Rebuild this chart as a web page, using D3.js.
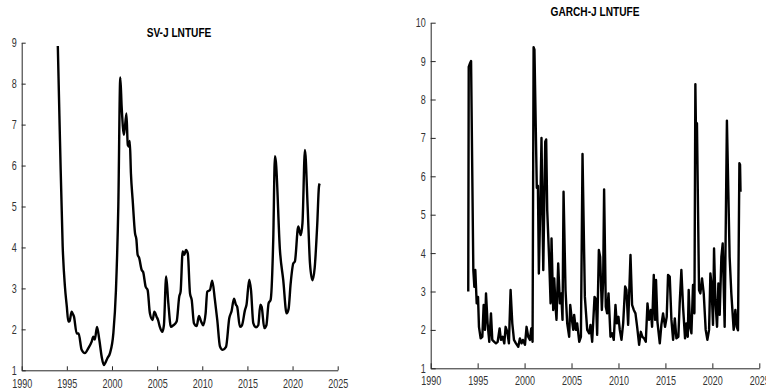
<!DOCTYPE html>
<html>
<head>
<meta charset="utf-8">
<script src="https://cdn.jsdelivr.net/npm/d3@7"></script>
<style>
  body { margin: 0; background: #fff; }
  .axis path, .axis line { stroke: #262626; }
  .axis text { fill: #333; font-family: "Liberation Sans", Arial, sans-serif; font-size: 12.5px; }
  .title { font-family: "Liberation Sans", Arial, sans-serif; font-weight: bold; font-size: 13px; fill: #000; }
</style>
</head>
<body>
<div id="chart"></div>
<script>
// SV-J LNTUFE (left panel)
const svjYears = [1994.0, 1994.24, 1994.54, 1994.79, 1995.0, 1995.16, 1995.3, 1995.53, 1995.65, 1995.79,
  1996.09, 1996.3, 1996.64, 1997.0, 1997.38, 1997.75, 1997.93, 1998.1, 1998.34, 1998.6,
  1998.86, 1999.1, 1999.3, 1999.48, 1999.78, 2000.15, 2000.44, 2000.7, 2000.92, 2001.07,
  2001.33, 2001.6, 2001.75, 2001.9, 2001.97, 2002.1, 2002.29, 2002.55, 2002.7, 2002.84,
  2003.0, 2003.29, 2003.45, 2003.73, 2003.95, 2004.2, 2004.5, 2004.69, 2004.94, 2005.1,
  2005.3, 2005.57, 2005.75, 2006.0, 2006.24, 2006.53, 2006.8, 2007.16, 2007.45, 2007.6,
  2007.83, 2008.0, 2008.2, 2008.4, 2008.64, 2008.83, 2009.08, 2009.38, 2009.63, 2009.86,
  2010.1, 2010.37, 2010.55, 2010.85, 2011.1, 2011.4, 2011.66, 2011.96, 2012.26, 2012.63,
  2012.99, 2013.25, 2013.51, 2013.73, 2013.87, 2014.17, 2014.4, 2014.73, 2014.9, 2015.2,
  2015.4, 2015.65, 2015.95, 2016.2, 2016.43, 2016.58, 2016.87, 2017.1, 2017.35, 2017.57,
  2017.86, 2018.05, 2018.15, 2018.6, 2018.97, 2019.34, 2019.56, 2019.79, 2020.08, 2020.26,
  2020.63, 2020.9, 2021.1, 2021.37, 2021.67, 2021.93, 2022.2, 2022.45, 2022.74, 2022.92, 2023.0];
const svjValues = [8.92, 6.62, 4.02, 3.04, 2.55, 2.19, 2.2, 2.43, 2.38, 2.31,
  1.9, 1.9, 1.5, 1.42, 1.54, 1.7, 1.82, 1.75, 2.06, 1.74,
  1.33, 1.13, 1.2, 1.29, 1.42, 1.9, 2.96, 5.0, 8.15, 7.44,
  6.75, 7.27, 6.5, 6.46, 6.6, 5.8, 5.16, 4.35, 4.2, 3.82,
  3.75, 3.45, 3.4, 3.04, 2.96, 2.39, 2.23, 2.43, 2.31, 2.23,
  2.06, 1.94, 2.1, 3.29, 2.64, 2.06, 2.1, 2.19, 2.8, 2.92,
  3.9, 3.82, 3.94, 3.85, 2.88, 2.72, 2.15, 2.08, 2.33, 2.2,
  2.1, 2.39, 2.92, 2.96, 3.19, 2.72, 2.23, 1.58, 1.5, 1.57,
  2.27, 2.45, 2.75, 2.6, 2.55, 2.06, 2.1, 2.47, 2.6, 3.21,
  2.95, 2.15, 2.05, 2.1, 2.6, 2.55, 2.03, 2.1, 2.64, 2.72,
  4.18, 6.23, 6.1, 3.94, 3.2, 2.39, 2.5, 3.12, 3.61, 3.66,
  4.51, 4.3, 4.6, 6.38, 5.0, 3.61, 3.2, 3.5, 4.59, 5.48, 5.56];

// GARCH-J LNTUFE (right panel)
const garchYears = [1994.0, 1994.05, 1994.2, 1994.3, 1994.54, 1994.65, 1994.75, 1994.9, 1995.04, 1995.14,
  1995.32, 1995.5, 1995.64, 1995.78, 1995.89, 1996.06, 1996.24, 1996.42, 1996.56, 1996.77,
  1996.95, 1997.13, 1997.34, 1997.48, 1997.66, 1997.84, 1997.98, 1998.16, 1998.33, 1998.51,
  1998.69, 1998.87, 1999.08, 1999.33, 1999.5, 1999.68, 1999.82, 2000.04, 2000.21, 2000.39,
  2000.57, 2000.71, 2000.85, 2000.96, 2001.05, 2001.3, 2001.42, 2001.52, 2001.7, 2001.8,
  2001.99, 2002.2, 2002.3, 2002.41, 2002.62, 2002.77, 2002.87, 2003.05, 2003.16, 2003.3,
  2003.4, 2003.58, 2003.76, 2003.9, 2004.04, 2004.15, 2004.36, 2004.54, 2004.75, 2004.86,
  2005.0, 2005.18, 2005.28, 2005.46, 2005.6, 2005.82, 2006.0, 2006.17, 2006.42, 2006.67,
  2006.88, 2007.02, 2007.2, 2007.45, 2007.6, 2007.73, 2007.91, 2008.05, 2008.23, 2008.37,
  2008.47, 2008.65, 2008.79, 2008.94, 2009.15, 2009.33, 2009.5, 2009.68, 2009.82, 2010.0,
  2010.14, 2010.32, 2010.5, 2010.71, 2010.85, 2011.03, 2011.28, 2011.45, 2011.63, 2011.81,
  2011.99, 2012.2, 2012.38, 2012.55, 2012.73, 2012.91, 2013.09, 2013.26, 2013.44, 2013.58,
  2013.76, 2013.9, 2014.0, 2014.15, 2014.4, 2014.57, 2014.75, 2014.96, 2015.14, 2015.28,
  2015.46, 2015.64, 2015.82, 2016.0, 2016.17, 2016.38, 2016.52, 2016.7, 2016.88, 2017.09,
  2017.23, 2017.38, 2017.48, 2017.62, 2017.77, 2017.94, 2018.09, 2018.19, 2018.28, 2018.36,
  2018.58, 2018.72, 2018.9, 2019.08, 2019.29, 2019.47, 2019.65, 2019.79, 2019.9, 2020.07,
  2020.18, 2020.32, 2020.5, 2020.64, 2020.78, 2020.96, 2021.1, 2021.31, 2021.55, 2021.84,
  2022.02, 2022.27, 2022.45, 2022.59, 2022.73, 2022.88, 2022.95, 2023.0];
const garchValues = [3.0, 8.85, 8.95, 9.0, 3.56, 3.12, 3.56, 2.69, 2.86, 2.08,
  1.78, 1.82, 2.65, 2.0, 2.95, 2.17, 1.69, 2.43, 1.74, 1.69,
  1.65, 1.69, 2.04, 1.74, 1.82, 1.65, 2.08, 1.95, 1.65, 3.04,
  2.17, 1.74, 1.65, 1.56, 1.78, 1.65, 1.74, 1.61, 2.08, 1.82,
  1.74, 2.04, 1.69, 9.36, 9.3, 5.7, 5.75, 3.47, 5.55, 7.0,
  3.56, 6.9, 6.96, 5.12, 3.82, 2.69, 4.38, 2.52, 3.34, 2.6,
  2.26, 3.73, 2.69, 2.95, 2.26, 5.6, 3.04, 2.17, 1.82, 2.65,
  2.34, 2.0, 2.39, 2.0, 2.17, 1.69, 1.82, 6.58, 2.86, 2.0,
  1.91, 2.13, 1.69, 2.86, 2.8, 1.87, 4.08, 3.9, 2.52, 3.3,
  5.66, 2.6, 2.43, 2.95, 1.82, 1.91, 1.74, 2.65, 2.17, 2.34,
  2.0, 1.74, 2.17, 3.13, 3.04, 2.13, 3.95, 2.65, 2.52, 2.43,
  2.08, 1.61, 1.95, 1.82, 1.78, 1.69, 2.69, 2.26, 2.52, 2.08,
  3.43, 2.26, 3.3, 2.21, 1.65, 2.13, 2.43, 2.08, 2.34, 3.43,
  3.39, 2.26, 1.74, 2.3, 1.78, 1.82, 2.69, 3.56, 2.6, 1.78,
  2.17, 1.82, 3.04, 2.08, 1.91, 3.17, 2.43, 8.4, 6.7, 7.38,
  3.04, 2.95, 3.34, 2.95, 2.0, 1.74, 2.0, 3.47, 3.21, 2.13,
  4.12, 2.78, 2.08, 3.21, 2.39, 3.9, 4.25, 2.08, 7.45, 3.9,
  2.95, 2.0, 2.52, 2.08, 1.99, 6.34, 6.3, 5.6];

const xTicks = [1990, 1995, 2000, 2005, 2010, 2015, 2020, 2025];

const svg = d3.select("#chart").append("svg")
  .attr("width", 766)
  .attr("height", 391)
  .style("display", "block");

function drawPanel(opts) {
  const x = d3.scaleLinear().domain([1990, 2025]).range([opts.left, opts.right]);
  const y = d3.scaleLinear().domain(opts.yDomain).range([opts.bottom, opts.top]);

  // bottom axis, ticks point inward
  const xa = svg.append("g")
    .attr("class", "axis")
    .attr("transform", `translate(0,${opts.bottom})`)
    .call(d3.axisBottom(x).tickValues(xTicks).tickFormat(d3.format("d"))
      .tickSizeInner(-opts.tick).tickSizeOuter(0).tickPadding(opts.xPad));
  xa.selectAll("text").attr("transform", "scale(0.72,1)");

  const ya = svg.append("g")
    .attr("class", "axis")
    .attr("transform", `translate(${opts.left},0)`)
    .call(d3.axisLeft(y).tickValues(d3.range(opts.yDomain[0], opts.yDomain[1] + 1))
      .tickSizeInner(-opts.tick).tickSizeOuter(0));
  ya.selectAll("text").attr("x", 0).attr("transform", "translate(-5,0) scale(0.72,1)");

  svg.append("text")
    .attr("class", "title")
    .attr("text-anchor", "middle")
    .attr("transform", `translate(${opts.titleX},${opts.titleY}) scale(0.78,1)`)
    .text(opts.title);

  const line = d3.line()
    .x((d, i) => x(opts.years[i]))
    .y(d => y(d))
    .curve(opts.curve);

  svg.append("path")
    .datum(opts.values)
    .attr("d", line)
    .style("fill", "none")
    .style("stroke", "#000")
    .style("stroke-width", "2.4px")
    .style("stroke-linejoin", "round");
}

drawPanel({
  left: 21.7, right: 337.7, top: 42.7, bottom: 370.3,
  yDomain: [1, 9], tick: 4, xPad: 9,
  title: "SV-J LNTUFE", titleX: 179, titleY: 36.5,
  years: svjYears, values: svjValues, curve: d3.curveMonotoneX
});

drawPanel({
  left: 430.7, right: 759.3, top: 22.7, bottom: 368.3,
  yDomain: [1, 10], tick: 5, xPad: 8,
  title: "GARCH-J LNTUFE", titleX: 595, titleY: 16,
  years: garchYears, values: garchValues, curve: d3.curveLinear
});
</script>
</body>
</html>
